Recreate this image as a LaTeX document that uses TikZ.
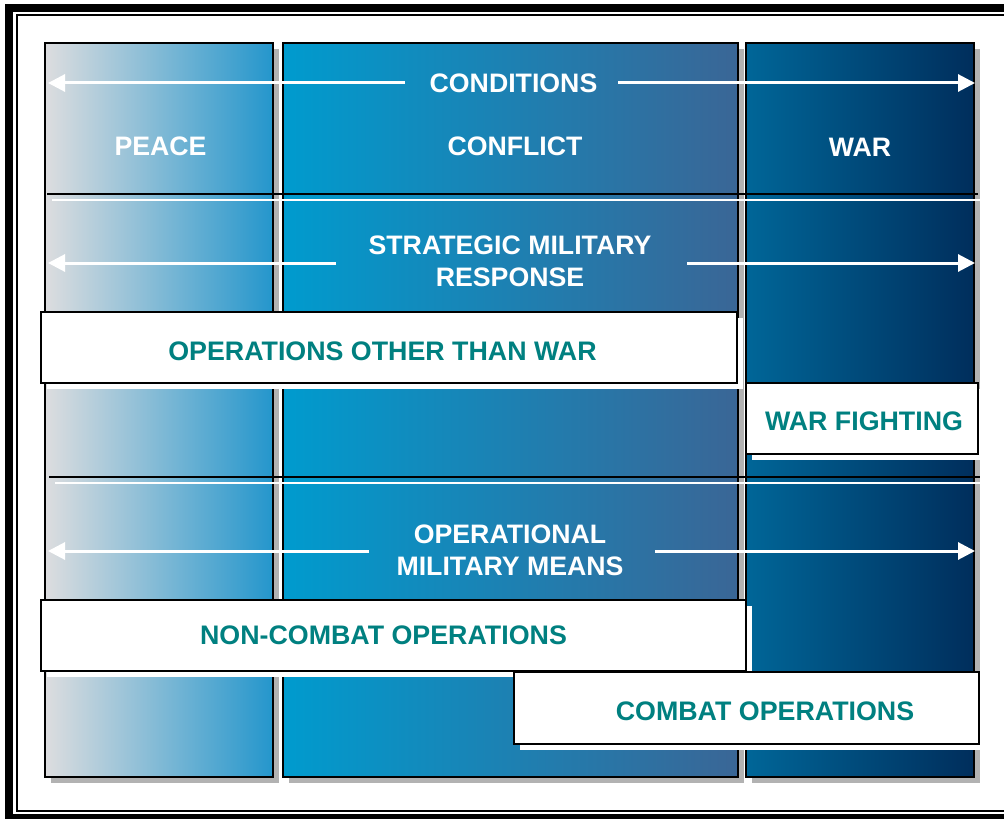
\documentclass[tikz,border=0pt]{standalone}
\usepackage{fontspec}
\setmainfont{Liberation Sans}
\usetikzlibrary{arrows.meta}
\definecolor{tealtxt}{RGB}{0,128,128}
\definecolor{shadowgray}{RGB}{178,178,178}
\definecolor{peaceL}{RGB}{221,221,223}
\definecolor{peaceM}{RGB}{186,203,216}
\definecolor{peaceR}{RGB}{36,150,204}
\definecolor{conflL}{RGB}{0,155,206}
\definecolor{conflM}{RGB}{27,133,188}
\definecolor{conflR}{RGB}{58,102,150}
\definecolor{warL}{RGB}{0,102,152}
\definecolor{warM}{RGB}{0,76,122}
\definecolor{warR}{RGB}{0,46,92}
\tikzset{
  lbl/.style={text=white, font=\fontsize{26.7bp}{32bp}\selectfont\bfseries, inner sep=0pt, align=center},
  btxt/.style={text=tealtxt, font=\fontsize{26.8bp}{32bp}\selectfont\bfseries, inner sep=0pt},
  warrow/.style={white, line width=3bp, -{Triangle[length=17bp,width=17bp]}},
  colborder/.style={draw=black, line width=2bp},
  wbox/.style={fill=white, draw=black, line width=2bp},
  wshadow/.style={fill=white},
  gshadow/.style={fill=shadowgray},
  sepblack/.style={black, line width=2bp},
  sepwhite/.style={white, line width=2bp},
}
\begin{document}
\begin{tikzpicture}[x=1bp,y=-1bp]
\useasboundingbox (0,0) rectangle (1004,819);
\clip (0,0) rectangle (1004,819);
\fill[white] (0,0) rectangle (1004,819);
% frame
\draw[line width=8bp] (9,8) rectangle (1020,818);
\draw[line width=2bp] (17,15) rectangle (1020,811);
% column shadows
\fill[gshadow] (51,49) rectangle (279,783);
\fill[gshadow] (289,49) rectangle (744,783);
\fill[gshadow] (752,49) rectangle (980,783);
% columns
\shade[left color=peaceL, middle color=peaceM, right color=peaceR] (45,43) rectangle (273,777);
\draw[colborder] (45,43) rectangle (273,777);
\shade[left color=conflL, middle color=conflM, right color=conflR] (283,43) rectangle (738,777);
\draw[colborder] (283,43) rectangle (738,777);
\shade[left color=warL, middle color=warM, right color=warR] (746,43) rectangle (974,777);
\draw[colborder] (746,43) rectangle (974,777);
% separators
\draw[sepblack] (47,193.5) -- (978,193.5);
\draw[sepwhite] (52,199.5) -- (1004,199.5);
\draw[sepblack] (49,477) -- (980,477);
\draw[sepwhite] (55,483) -- (1004,483);
% labels
\node[lbl] (cond) at (513.5,83) {CONDITIONS};
\node[lbl] (peace) at (160.5,146) {PEACE};
\node[lbl] (conflict) at (515,146) {CONFLICT};
\node[lbl] (war) at (860,147) {WAR};
\node[lbl] (strat) at (510,261) {STRATEGIC MILITARY\\RESPONSE};
\node[lbl] (oper) at (510,550.5) {OPERATIONAL\\MILITARY MEANS};
% arrows
\coordinate (condL) at (48,83);
\coordinate (condR) at (975,83);
\coordinate (stratL) at (48,263);
\coordinate (stratR) at (975,263);
\coordinate (operL) at (48,551);
\coordinate (operR) at (975,551);
\draw[warrow] (405,83) -- (condL);
\draw[warrow] (618,83) -- (condR);
\draw[warrow] (336,263) -- (stratL);
\draw[warrow] (687,263) -- (stratR);
\draw[warrow] (369,551) -- (operL);
\draw[warrow] (655,551) -- (operR);
% white boxes
\fill[wshadow] (47,318) rectangle (743,389);
\draw[wbox] (41,312) rectangle (737,383);
\node[btxt] (ootw) at (382.5,351) {OPERATIONS OTHER THAN WAR};
\fill[wshadow] (752,389) rectangle (984,460);
\draw[wbox] (746,383) rectangle (978,454);
\node[btxt] (wf) at (864,421) {WAR FIGHTING};
\fill[wshadow] (47,606) rectangle (752,677);
\draw[wbox] (41,600) rectangle (746,671);
\node[btxt] (nco) at (383.5,635) {NON-COMBAT OPERATIONS};
\fill[wshadow] (520,678) rectangle (985,750);
\draw[wbox] (514,672) rectangle (979,744);
\node[btxt] (co) at (765,711) {COMBAT OPERATIONS};
\end{tikzpicture}
\end{document}
